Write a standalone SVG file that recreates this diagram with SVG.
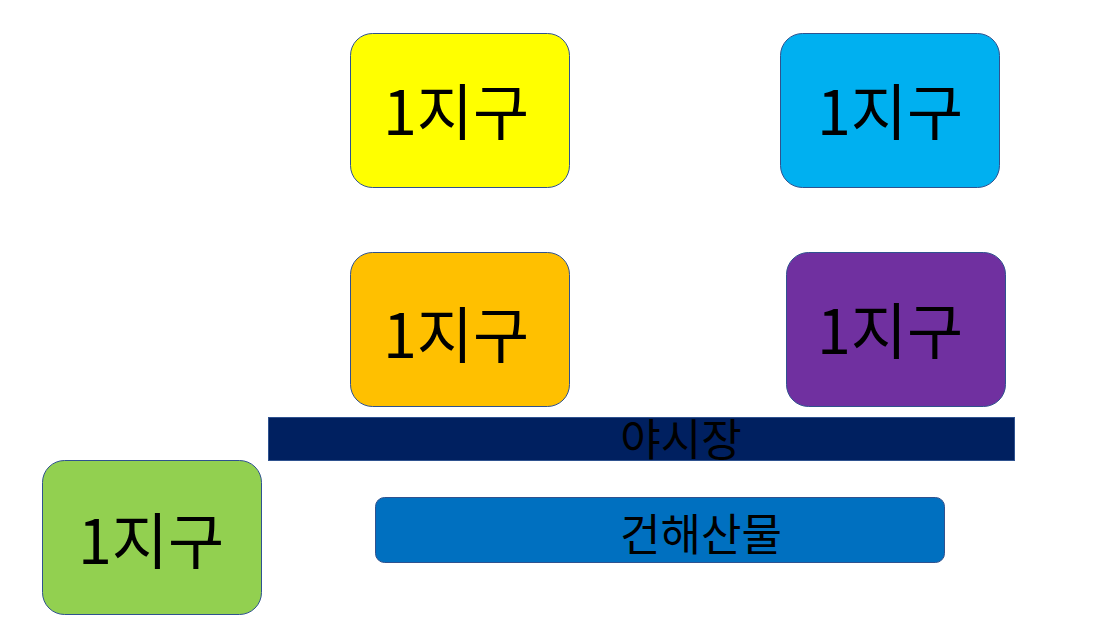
<svg xmlns="http://www.w3.org/2000/svg" width="1102" height="618" viewBox="0 0 1102 618">
<style>
.box{stroke:#2F528F;stroke-width:1}
.t{font-family:"Noto Sans CJK KR","Noto Sans",sans-serif;fill:#000;text-anchor:middle}
.big{font-size:61px}
.mid{font-size:44px}
</style>
<rect width="1102" height="618" fill="#fff"/>
<g id="n1"><rect class="box" x="350.5" y="33.5" width="219" height="154" rx="22" fill="#FFFF00"/><text class="t big" x="456" y="135">1지구</text></g>
<g id="n2"><rect class="box" x="780.5" y="33.5" width="219" height="154" rx="22" fill="#00B0F0"/><text class="t big" x="890" y="135">1지구</text></g>
<g id="n3"><rect class="box" x="350.5" y="252.5" width="219" height="154" rx="22" fill="#FFC000"/><text class="t big" x="456" y="358">1지구</text></g>
<g id="n4"><rect class="box" x="786.5" y="252.5" width="219" height="154" rx="22" fill="#7030A0"/><text class="t big" x="890" y="354">1지구</text></g>
<g id="n5"><rect class="box" x="42.5" y="460.5" width="219" height="154" rx="22" fill="#92D050"/><text class="t big" x="151" y="564">1지구</text></g>
<g id="n6"><rect class="box" x="268.5" y="417.5" width="746" height="43" fill="#002060"/><text class="t mid" x="681" y="456">야시장</text></g>
<g id="n7"><rect class="box" x="375.5" y="497.5" width="569" height="65" rx="9" fill="#0070C0"/><text class="t mid" x="701" y="551">건해산물</text></g>
<g id="connectors"/>
</svg>
